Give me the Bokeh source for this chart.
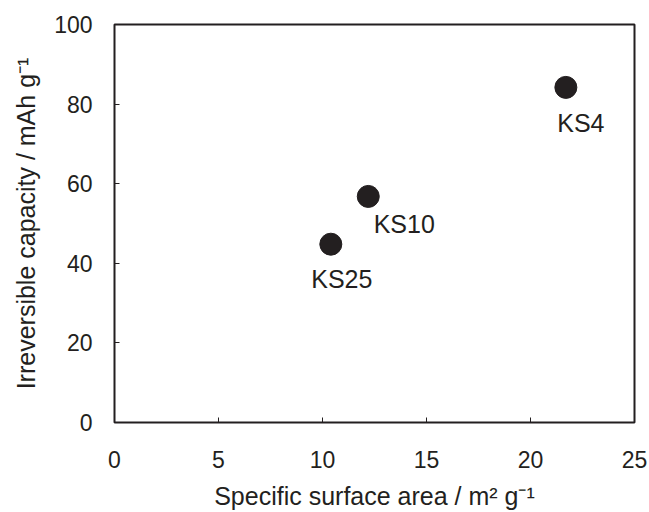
from bokeh.plotting import figure
from bokeh.models import Range1d, FixedTicker, ColumnDataSource
from bokeh.core.properties import value
from bokeh.embed import file_html
from bokeh.resources import INLINE

# data
samples = ["KS4", "KS10", "KS25"]
surface_area = [21.7, 12.2, 10.4]
irreversible_capacity = [84.2, 56.8, 44.8]
x_ticks = [0, 5, 10, 15, 20, 25]
y_ticks = [0, 20, 40, 60, 80, 100]

FONT = "Liberation Sans"
INK = "#231f20"

p = figure(width=649, height=512, output_backend="svg", toolbar_location=None,
           x_range=Range1d(0, 25), y_range=Range1d(0, 100),
           min_border_left=114, min_border_right=15, min_border_top=24, min_border_bottom=90)

p.xgrid.visible = False
p.ygrid.visible = False
p.outline_line_color = INK
p.outline_line_width = 2
p.outline_line_alpha = 1
p.background_fill_color = "white"
p.border_fill_color = "white"

for ax in (p.xaxis[0], p.yaxis[0]):
    ax.axis_line_color = None
    ax.major_tick_in = 5
    ax.major_tick_out = 0
    ax.minor_tick_line_color = None
    ax.major_tick_line_color = INK
    ax.major_tick_line_width = 1
    ax.major_label_text_font = FONT
    ax.major_label_text_font_size = "23px"
    ax.major_label_text_color = INK
    ax.axis_label_text_font = FONT
    ax.axis_label_text_font_size = "25px"
    ax.axis_label_text_font_style = "normal"
    ax.axis_label_text_color = INK

p.xaxis.ticker = FixedTicker(ticks=x_ticks)
p.yaxis.ticker = FixedTicker(ticks=y_ticks)
p.xaxis.major_label_standoff = 28
p.yaxis.major_label_standoff = 22
p.xaxis.axis_label = "Specific surface area / m² g⁻¹"
p.yaxis.axis_label = "Irreversible capacity / mAh g⁻¹"
p.xaxis.axis_label_standoff = 11
p.yaxis.axis_label_standoff = 11

src = ColumnDataSource(dict(x=surface_area, y=irreversible_capacity, name=samples))
p.scatter("x", "y", source=src, size=22, fill_color=INK, line_color=INK)

# label offsets (pixels, relative to each point)
dx = [15, 36, 11]
dy = [36, 28, 35]
lab = ColumnDataSource(dict(x=surface_area, y=irreversible_capacity, name=samples, dx=dx, dy=dy))
p.text("x", "y", text="name", source=lab, x_offset="dx", y_offset="dy",
       text_font=value(FONT), text_font_size="25px", text_color=INK,
       text_align="center", text_baseline="middle")

open("out.html", "w").write(file_html(p, INLINE))
